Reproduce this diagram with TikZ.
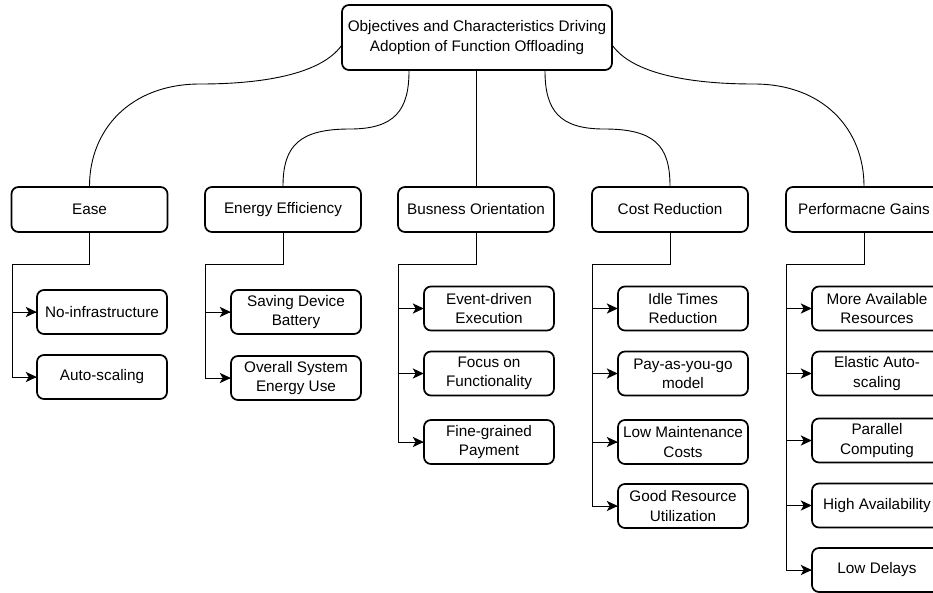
\documentclass[tikz,border=0pt]{standalone}
\usepackage{fontspec}
\setmainfont{Liberation Sans}

\begin{document}
\begin{tikzpicture}[x=1pt,y=-1pt,
  box/.style={draw=black, line width=1.7pt, rounded corners=7pt, fill=white,
    inner sep=0pt, align=center, font=\fontsize{15.3}{19.3}\selectfont},
  rootbox/.style={box, minimum width=270pt, minimum height=65pt},
  catbox/.style={box, minimum width=156pt, minimum height=45pt},
  leafbox/.style={box, minimum width=130pt, minimum height=44pt},
  link/.style={draw=black, line width=0.9pt},
  tiphead/.pic={\fill[black] (0.6,0) -- (-10.5,-5.2) -- (-7.5,0) -- (-10.5,5.2) -- cycle;}
]
\useasboundingbox (0,0) rectangle (933,592);
\clip (0,0) rectangle (933,592);

% root
\node[rootbox] (root) at (477,37.5) {Objectives and Characteristics Driving\\Adoption of Function Offloading};

% categories
\node[catbox] (ease) at (89.5,209.5) {Ease};
\node[catbox] (energy) at (283,209.5) {Energy Efficiency};
\node[catbox] (bus) at (476,209.5) {Busness Orientation};
\node[catbox] (cost) at (670,209.5) {Cost Reduction};
\node[catbox] (perf) at (864,209.5) {Performacne Gains};

% elbow joints below each category
\coordinate (jease) at (12,264);
\coordinate (jenergy) at (205,264);
\coordinate (jbus) at (398,264);
\coordinate (jcost) at (592,264);
\coordinate (jperf) at (786,264);

% leaves: Ease
\node[leafbox] (e1) at (102,312) {No-infrastructure};
\node[leafbox] (e2) at (102,377) {Auto-scaling};
% leaves: Energy Efficiency
\node[leafbox] (g1) at (296,312) {Saving Device\\Battery};
\node[leafbox] (g2) at (296,378) {Overall System\\Energy Use};
% leaves: Busness Orientation
\node[leafbox] (b1) at (489,308.5) {Event-driven\\Execution};
\node[leafbox] (b2) at (489,373.5) {Focus on\\Functionality};
\node[leafbox] (b3) at (489,442) {Fine-grained\\Payment};
% leaves: Cost Reduction
\node[leafbox] (c1) at (683,308.5) {Idle Times\\Reduction};
\node[leafbox] (c2) at (683,373.5) {Pay-as-you-go\\model};
\node[leafbox] (c3) at (683,442) {Low Maintenance\\Costs};
\node[leafbox] (c4) at (683,506) {Good Resource\\Utilization};
% leaves: Performance
\node[leafbox] (p1) at (877,308.5) {More Available\\Resources};
\node[leafbox] (p2) at (877,373.5) {Elastic Auto-\\scaling};
\node[leafbox] (p3) at (877,440.5) {Parallel\\Computing};
\node[leafbox] (p4) at (877,505.5) {High Availability};
\node[leafbox] (p5) at (877,570) {Low Delays};

% curved links from the root to the categories
\draw[link] ([yshift=-8.5pt]root.west) .. controls (322,72) and (270,84) .. (200,84)
  .. controls (130,84) and (89.5,130) .. (ease.north);
\draw[link] ([xshift=-68pt]root.south) .. controls (409,110) and (395,129) .. (350,129)
  .. controls (300,129) and (283,145) .. (energy.north);
\draw[link] (bus.north |- root.south) -- (bus.north);
\draw[link] ([xshift=68pt]root.south) .. controls (545,110) and (559,129) .. (604,129)
  .. controls (654,129) and (670,145) .. (cost.north);
\draw[link] ([yshift=-8.5pt]root.east) .. controls (632,72) and (684,84) .. (754,84)
  .. controls (824,84) and (864,130) .. (perf.north);

% elbow links from each category to its lowest leaf
\draw[link] (ease.south) |- (jease) |- (e2.west);
\draw[link] (energy.south) |- (jenergy) |- (g2.west);
\draw[link] (bus.south) |- (jbus) |- (b3.west);
\draw[link] (cost.south) |- (jcost) |- (c4.west);
\draw[link] (perf.south) |- (jperf) |- (p5.west);

% branches and arrowheads into every leaf
\foreach \cat/\leaf in {jease/e1,jease/e2,jenergy/g1,jenergy/g2,jbus/b1,jbus/b2,jbus/b3,
  jcost/c1,jcost/c2,jcost/c3,jcost/c4,jperf/p1,jperf/p2,jperf/p3,jperf/p4,jperf/p5}
  {\draw[link] (\cat |- \leaf.west) -- (\leaf.west);
   \path (\leaf.west) pic {tiphead};}
\end{tikzpicture}
\end{document}
